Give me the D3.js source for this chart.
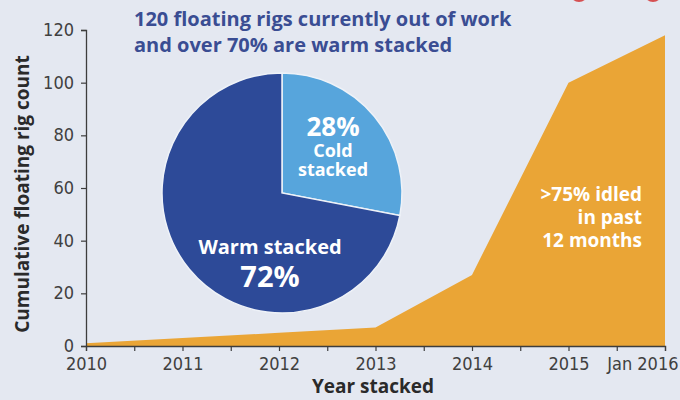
<!DOCTYPE html>
<html>
<head>
<meta charset="utf-8">
<script src="https://cdn.jsdelivr.net/npm/d3@7"></script>
<style>
  html, body { margin: 0; padding: 0; background: #e4e8f1; }
  svg { display: block; }
</style>
</head>
<body>
<svg id="chart" width="680" height="400"></svg>
<script>
// Cumulative count of idle floating rigs by year stacked
const years = [2010, 2011, 2012, 2013, 2014, 2015, 2016];
const rigCounts = [1, 3, 5, 7, 27, 100, 118];

// Axis tick labels
const yTicks = [0, 20, 40, 60, 80, 100, 120];
const xTickLabels = ["2010", "2011", "2012", "2013", "2014", "2015", "Jan 2016"];

// Share of idle rigs by stacking type
const stackTypes = ["Cold stacked", "Warm stacked"];
const stackShares = [28, 72];

const svg = d3.select("#chart");
const W = 680, H = 400;

const colors = {
  bg: "#e4e8f1",
  area: "#eaa536",
  warm: "#2d4a98",
  cold: "#57a5dc",
  title: "#3a4d93",
  axis: "#3d3d3d",
  red: "#d2292b"
};
const boldFont = "'Open Sans', sans-serif";

svg.append("rect").attr("width", W).attr("height", H).attr("fill", colors.bg);

// Partial logo marks at the top edge
svg.selectAll("circle.logo")
  .data([579, 653])
  .join("circle")
  .attr("class", "logo")
  .attr("cx", d => d)
  .attr("cy", -7)
  .attr("r", 9)
  .attr("fill", colors.red)
  .attr("opacity", 0.8);

const x = d3.scaleLinear().domain([2010, 2016]).range([86, 665]);
const y = d3.scaleLinear().domain([0, 120]).range([346, 30]);

const points = years.map((yr, i) => ({ yr, v: rigCounts[i] }));

const area = d3.area()
  .x(d => x(d.yr))
  .y0(y(0))
  .y1(d => y(d.v));

svg.append("path")
  .datum(points)
  .attr("d", area)
  .attr("fill", colors.area);

// Y axis
const yAxis = d3.axisLeft(y)
  .tickValues(yTicks)
  .tickSize(5)
  .tickPadding(7);
const gy = svg.append("g")
  .attr("transform", `translate(${x(2010)},0)`)
  .call(yAxis);

// X axis: minor ticks every half year, labels on whole years
const halfYears = d3.range(2010, 2016.01, 0.5);
const xAxis = d3.axisBottom(x)
  .tickValues(halfYears)
  .tickSize(5)
  .tickPadding(6)
  .tickFormat(d => Number.isInteger(d) ? xTickLabels[d - 2010] : "");
const gx = svg.append("g")
  .attr("transform", `translate(0,${y(0)})`)
  .call(xAxis);

[gx, gy].forEach(g => {
  g.select(".domain").attr("stroke", colors.axis).attr("stroke-width", 1.3);
  g.selectAll(".tick line").attr("stroke", colors.axis).attr("stroke-width", 1.2);
  g.selectAll(".tick text")
    .attr("fill", "#404040")
    .style("font-family", "'DejaVu Sans Condensed', 'DejaVu Sans', sans-serif")
    .style("font-stretch", "condensed")
    .style("font-size", "18px");
});
gy.selectAll(".tick text").attr("dy", "0.3em");
gx.selectAll(".tick text")
  .filter(d => d === 2016)
  .attr("text-anchor", "end")
  .attr("dx", 13);

// Axis titles
svg.append("text")
  .attr("transform", `translate(29,${(y(0) + y(120)) / 2 + 6}) rotate(-90)`)
  .attr("text-anchor", "middle")
  .attr("fill", "#2a2a2a")
  .style("font-family", boldFont)
  .style("font-weight", "700")
  .style("font-size", "19px")
  .text("Cumulative floating rig count");

svg.append("text")
  .attr("x", 373)
  .attr("y", 393)
  .attr("text-anchor", "middle")
  .attr("fill", "#2a2a2a")
  .style("font-family", boldFont)
  .style("font-weight", "700")
  .style("font-size", "19px")
  .text("Year stacked");

// Headline
const titleLines = ["120 floating rigs currently out of work", "and over 70% are warm stacked"];
svg.selectAll("text.title")
  .data(titleLines)
  .join("text")
  .attr("class", "title")
  .attr("x", 134)
  .attr("y", (d, i) => 26 + i * 26)
  .attr("fill", colors.title)
  .style("font-family", boldFont)
  .style("font-weight", "700")
  .style("font-size", "20px")
  .text(d => d);

// Pie of stacking type
const pieData = stackTypes.map((t, i) => ({ type: t, share: stackShares[i] }));
const pie = d3.pie().sort(null).value(d => d.share);
const arc = d3.arc().innerRadius(0).outerRadius(120);
const pieG = svg.append("g").attr("transform", "translate(282,193)");
pieG.selectAll("path")
  .data(pie(pieData))
  .join("path")
  .attr("d", arc)
  .attr("fill", (d, i) => i === 0 ? colors.cold : colors.warm)
  .attr("stroke", "#eef2f8")
  .attr("stroke-width", 1.5);

const pieText = (tx, ty, size, txt) =>
  pieG.append("text")
    .attr("x", tx)
    .attr("y", ty)
    .attr("text-anchor", "middle")
    .attr("fill", "#ffffff")
    .style("font-family", boldFont)
    .style("font-weight", "700")
    .style("font-size", size)
    .text(txt);

pieText(51, -57, "26px", `${stackShares[0]}%`);
pieText(51, -36, "18px", "Cold");
pieText(51, -17, "18px", "stacked");
pieText(-12, 61, "20px", "Warm stacked");
pieText(-12, 94, "29px", `${stackShares[1]}%`);

// Annotation on the area
const noteLines = [">75% idled", "in past", "12 months"];
svg.selectAll("text.note")
  .data(noteLines)
  .join("text")
  .attr("class", "note")
  .attr("x", 642)
  .attr("y", (d, i) => 201 + i * 23)
  .attr("text-anchor", "end")
  .attr("fill", "#ffffff")
  .style("font-family", boldFont)
  .style("font-weight", "700")
  .style("font-size", "19px")
  .text(d => d);
</script>
</body>
</html>
